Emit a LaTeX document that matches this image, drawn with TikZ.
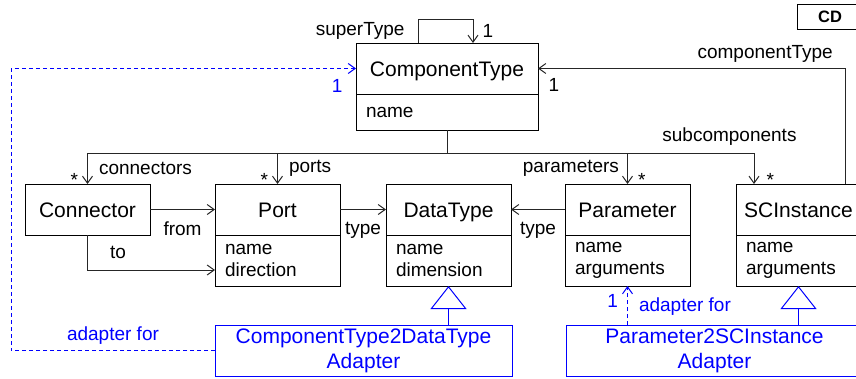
\documentclass[tikz,border=0pt]{standalone}
\usepackage{fontspec}
\setmainfont{Liberation Sans}
\usetikzlibrary{positioning,arrows.meta}

\begin{document}
\begin{tikzpicture}[x=1pt,y=-1pt]
        \tikzstyle{classname} = [rectangle, draw=black, line width=1pt, outer sep=0pt, minimum width=125pt, minimum height=51pt, inner sep=0pt, text height=15pt, text depth=0pt, font=\fontsize{21}{25}\selectfont]
        \tikzstyle{attrs} = [rectangle, draw=black, line width=1pt, outer sep=0pt, text width=105pt, minimum height=51pt, inner xsep=10pt, inner ysep=0pt, align=left, font=\fontsize{19}{22}\selectfont]
        \tikzstyle{adapter} = [rectangle, draw=blue, text=blue, line width=1pt, outer sep=0pt, minimum width=297pt, minimum height=51pt, align=center, font=\fontsize{21}{25}\selectfont]
        \tikzstyle{lbl} = [inner sep=1pt, font=\fontsize{19}{22}\selectfont]
        \tikzstyle{arrow} = [line width=1pt, black!85, ->, >={Straight Barb[length=7pt,width=10pt]}]
        \tikzstyle{dep} = [arrow, blue, dash pattern=on 4pt off 3pt]
        \tikzstyle{inherit} = [line width=1pt, blue, -{Triangle[open,length=23pt,width=36pt]}]
        \useasboundingbox (0,0) rectangle (856,378);
        \clip (0,0) rectangle (856,378);

        \node (cd) [draw, line width=1pt, minimum width=66pt, minimum height=25pt, font=\bfseries\fontsize{16.5}{20}\selectfont] at (830,16.5) {CD};

        \node (ctype) [classname, minimum width=182pt] at (447,68.5) {ComponentType};
        \node (ctypeattr) [attrs, text width=162pt, minimum height=36pt, below=0pt of ctype] {name};

        \node (conn) [classname] at (87.5,209.5) {Connector};
        \node (port) [classname, right=65pt of conn] {Port};
        \node (portattr) [attrs, below=0pt of port] {name\\direction};
        \node (dtype) [classname, right=46pt of port] {DataType};
        \node (dtypeattr) [attrs, below=0pt of dtype] {name\\dimension};
        \node (param) [classname, right=54pt of dtype] {Parameter};
        \node (paramattr) [attrs, below=0pt of param] {name\\arguments};
        \node (scinst) [classname, right=46pt of param] {SCInstance};
        \node (scinstattr) [attrs, below=0pt of scinst] {name\\arguments};

        \node (ad1) [adapter] at (363.5,350.5) {ComponentType2DataType\\Adapter};
        \node (ad2) [adapter] at (714.5,350.5) {Parameter2SCInstance\\Adapter};
        \coordinate (adcorner) at (11,350.5);

        % associations of ComponentType
        \draw [arrow] ([xshift=-29pt]ctype.north) -- ++(0,-24) node [lbl, black, midway, left=12pt] (lblsuper) {superType}
            -| ([xshift=26pt]ctype.north) node [lbl, black, pos=0.75, right=8pt] (msuper) {1};
        \draw [arrow] ([xshift=-16pt]scinst.north east) |- (ctype.east)
            node [lbl, black, pos=0.63, above=5pt] (lblctype) {componentType}
            node [lbl, black, pos=1, anchor=north west, xshift=9pt, yshift=-8pt] (mctype) {1};

        \draw [line width=1pt, black!85] (ctypeattr.south) -- ++(0,23) coordinate (hub);
        \draw [arrow] (hub) -| (conn.north)
            node [lbl, black, pos=0.75, right=10pt] (lblconn) {connectors}
            node [lbl, black, pos=0.93, left=8pt] (mconn) {*};
        \draw [arrow] (hub) -| (port.north)
            node [lbl, black, pos=0.75, right=10pt] (lblport) {ports}
            node [lbl, black, pos=0.93, left=8pt] (mport) {*};
        \draw [arrow] (hub) -| (param.north)
            node [lbl, black, pos=0.75, left=7pt] (lblparam) {parameters}
            node [lbl, black, pos=0.93, right=9pt] (mparam) {*};
        \draw [arrow] (hub) -| ([xshift=18pt]scinst.north west)
            node [lbl, black, pos=0.46, above=6pt] (lblsub) {subcomponents}
            node [lbl, black, pos=0.93, right=11pt] (msub) {*};

        % connector and type links
        \draw [arrow] (conn.east) -- (port.west) node [lbl, black, midway, below=11pt] (lblfrom) {from};
        \draw [arrow] (conn.south) |- ([yshift=-9.5pt]portattr.west) node [lbl, black, pos=0.25, right=21pt] (lblto) {to};
        \draw [arrow] (port.east) -- (dtype.west) node [lbl, black, midway, below=11pt] (lbltype1) {type};
        \draw [arrow] (param.west) -- (dtype.east) node [lbl, black, midway, below=11pt] (lbltype2) {type};

        % adapters
        \draw [inherit] (ad1.north -| dtypeattr.south) -- (dtypeattr.south);
        \draw [inherit] (ad2.north -| scinstattr.south) -- (scinstattr.south);
        \draw [dep] (ad1.west) -- (adcorner) node [lbl, blue, midway, above=5pt] (lbladapt1) {adapter for}
            |- (ctype.west) node [lbl, blue, pos=1, anchor=north east, xshift=-12pt, yshift=-9pt] (madapt1) {1};
        \draw [dep] (ad2.north -| paramattr.south) -- (paramattr.south)
            node [lbl, blue, pos=0.62, left=8pt] (madapt2) {1}
            node [lbl, blue, pos=0.46, right=10pt] (lbladapt2) {adapter for};
\end{tikzpicture}
\end{document}
